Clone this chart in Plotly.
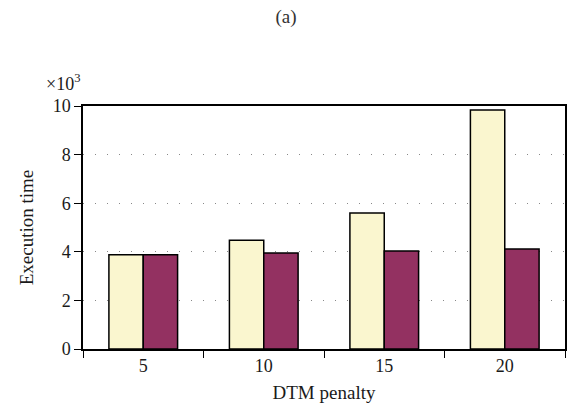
import plotly.graph_objects as go

# DTM penalty categories and execution times (in thousands)
penalties = ["5", "10", "15", "20"]
series_a = [3.88, 4.48, 5.60, 9.84]
series_b = [3.88, 3.95, 4.03, 4.12]
y_ticks = [0, 2, 4, 6, 8, 10]

FONT = "Liberation Serif"
INK = "#1a1a1a"

fig = go.Figure()
fig.add_trace(go.Bar(
    x=penalties, y=series_a,
    marker=dict(color="#FAF6CF", line=dict(color="#000000", width=1.5)),
))
fig.add_trace(go.Bar(
    x=penalties, y=series_b,
    marker=dict(color="#933161", line=dict(color="#000000", width=1.5)),
))

fig.update_layout(
    width=572, height=419,
    margin=dict(l=83, r=5, t=106, b=70),
    paper_bgcolor="white", plot_bgcolor="white",
    barmode="group", bargap=0.43, bargroupgap=0,
    showlegend=False,
    font=dict(family=FONT, size=18, color=INK),
    title=dict(text="(a)", x=0.5, xanchor="center", y=0.962, yanchor="middle",
               font=dict(family=FONT, size=19, color="#333333")),
)

fig.update_xaxes(
    type="category",
    showline=True, linecolor="#000000", linewidth=1.5, mirror=True,
    ticks="outside", tickson="boundaries", ticklen=7, tickwidth=1.2, tickcolor="#000000",
    showgrid=False,
    tickfont=dict(family=FONT, size=18, color=INK),
    title=dict(text="DTM penalty", font=dict(family=FONT, size=19, color=INK), standoff=10),
)
fig.update_yaxes(
    range=[0, 10], tickvals=y_ticks,
    showline=True, linecolor="#000000", linewidth=1.5, mirror=True,
    ticks="outside", ticklen=7, tickwidth=1.2, tickcolor="#000000",
    showgrid=True, gridcolor="#888888", gridwidth=1, griddash="1px,11px",
    zeroline=False,
    tickfont=dict(family=FONT, size=18, color=INK),
    title=dict(text="Execution time", font=dict(family=FONT, size=19, color=INK), standoff=14),
)

fig.add_annotation(
    text="×10<sup>3</sup>", xref="paper", yref="paper",
    x=0, y=1.0, xanchor="center", yanchor="bottom", yshift=10, xshift=-20,
    showarrow=False, font=dict(family=FONT, size=18, color=INK),
)

fig.write_html("out.html")
